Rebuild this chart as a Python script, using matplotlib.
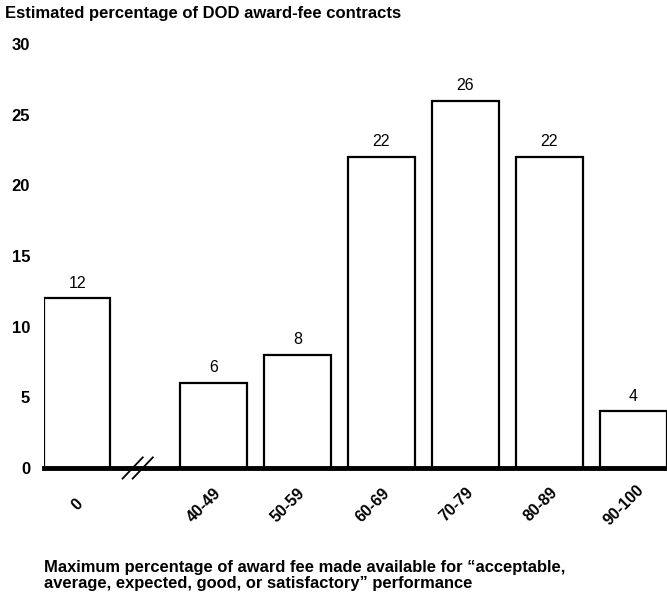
import matplotlib.pyplot as plt
from matplotlib.transforms import ScaledTranslation

# data
categories = ["0", "40-49", "50-59", "60-69", "70-79", "80-89", "90-100"]
values = [12, 6, 8, 22, 26, 22, 4]
positions = [0, 1.62, 2.62, 3.62, 4.62, 5.62, 6.62]

plt.rcParams["font.family"] = ["Liberation Sans", "DejaVu Sans"]

fig = plt.figure(figsize=(6.67, 5.96), dpi=100)
ax = fig.add_axes([0.066, 0.2148, 0.934, 0.7112])

ax.bar(positions, values, width=0.79, color="white", edgecolor="black",
       linewidth=1.6, zorder=2)

for x, v in zip(positions, values):
    ax.text(x, v + 0.55, str(v), ha="center", va="bottom", fontsize=11.5)

ax.set_xlim(-0.395, 7.02)
ax.set_ylim(0, 30)

for s in ["top", "right", "left"]:
    ax.spines[s].set_visible(False)
ax.spines["bottom"].set_linewidth(3.5)
ax.spines["bottom"].set_zorder(3)

ax.set_yticks([0, 5, 10, 15, 20, 25, 30])
ax.tick_params(axis="y", length=0, pad=10, labelsize=12)
for lab in ax.get_yticklabels():
    lab.set_fontweight("bold")

ax.set_xticks(positions)
ax.set_xticklabels(categories, rotation=45, ha="center", va="center",
                   fontweight="bold", fontsize=11.5)
ax.tick_params(axis="x", length=0, pad=26.5)
# longer labels sit a little left of the bar centre
for lab in ax.get_xticklabels():
    if len(lab.get_text()) > 1:
        lab.set_transform(lab.get_transform() +
                          ScaledTranslation(-0.09, 0, fig.dpi_scale_trans))

# axis break marks
for bx in [0.66, 0.78]:
    ax.plot([bx - 0.12, bx + 0.12], [-0.75, 0.75], color="black", lw=1.3,
            clip_on=False, zorder=4)

fig.text(0.008, 0.977, "Estimated percentage of DOD award-fee contracts",
         fontsize=12, fontweight="bold", ha="left", va="center")

fig.text(0.066, 0.034,
         "Maximum percentage of award fee made available for \u201cacceptable,\n"
         "average, expected, good, or satisfactory\u201d performance",
         fontsize=11.85, fontweight="bold", ha="left", va="center",
         linespacing=1.1)

fig.savefig("out.png", dpi=100)
